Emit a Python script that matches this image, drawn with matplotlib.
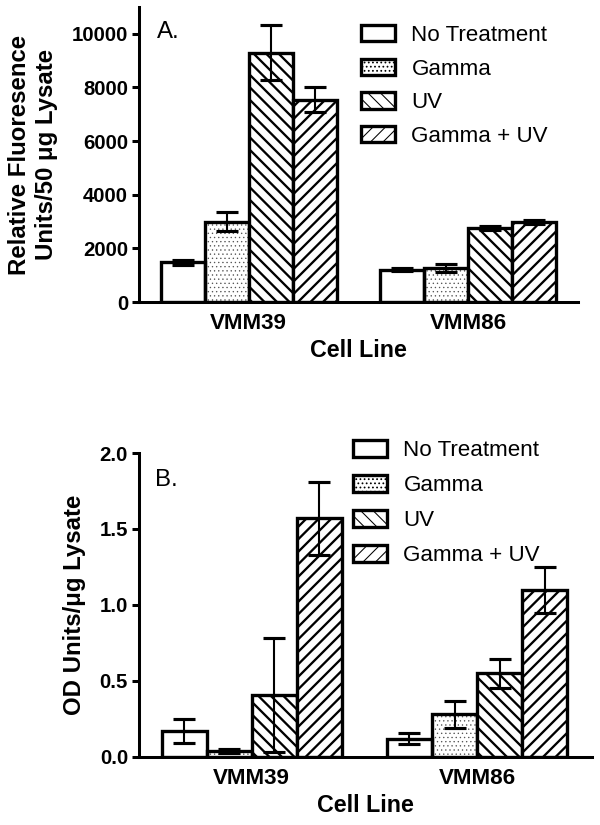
import numpy as np
import matplotlib.pyplot as plt

plt.rcParams['font.family'] = ['Liberation Sans', 'DejaVu Sans']

cell_lines = ['VMM39', 'VMM86']
treatments = ['No Treatment', 'Gamma', 'UV', 'Gamma + UV']
hatches = ['', '...', '\\\\', '//']

# panel A: relative fluorescence units / 50 ug lysate
fluor_vals = [[1480, 1200], [3000, 1270], [9300, 2770], [7550, 2970]]
fluor_err = [[100, 60], [370, 150], [1030, 70], [480, 80]]

# panel B: OD units / ug lysate
od_vals = [[0.17, 0.12], [0.04, 0.28], [0.405, 0.55], [1.57, 1.10]]
od_err = [[0.08, 0.035], [0.012, 0.09], [0.375, 0.095], [0.24, 0.15]]

W, H = 600, 825
fig = plt.figure(figsize=(8, 11), dpi=75)


def px_axes(l, t, r, b):
    return fig.add_axes([l / W, 1 - b / H, (r - l) / W, (b - t) / H])


def draw_panel(ax, vals, errs):
    x = np.arange(len(cell_lines))
    w = 0.2
    for i, name in enumerate(treatments):
        pos = x + (i - 1.5) * w
        dotted = hatches[i] == '...'
        hlw = 0.6 if dotted else 2.2
        with plt.rc_context({'hatch.linewidth': hlw}):
            if dotted:
                # grey dots under a black outline
                ax.bar(pos, vals[i], w, color='white', edgecolor='#555555',
                       linewidth=0, hatch=hatches[i], zorder=1.5)
                ax.bar(pos, vals[i], w, color='none', edgecolor='black',
                       linewidth=3.2, zorder=2)
                ax.bar([np.nan], [np.nan], color='white', edgecolor='black',
                       linewidth=3.2, hatch=hatches[i], label=name)
            else:
                ax.bar(pos, vals[i], w, color='white', edgecolor='black',
                       linewidth=3.2, hatch=hatches[i], label=name, zorder=2)
        ax.errorbar(pos, vals[i], yerr=errs[i], fmt='none', ecolor='black',
                    elinewidth=2, capsize=10.5, capthick=3, zorder=3)
    ax.set_xticks(x)
    ax.set_xticklabels(cell_lines, fontsize=21.5, fontweight='bold')
    ax.tick_params(axis='x', length=0, pad=11)
    ax.tick_params(axis='y', length=6.5, width=2.9, labelsize=19.5, pad=4)
    for lab in ax.get_yticklabels():
        lab.set_fontweight('bold')
    for s in ['top', 'right']:
        ax.spines[s].set_visible(False)
    for s in ['left', 'bottom']:
        ax.spines[s].set_linewidth(2.9)
    ax.set_xlabel('Cell Line', fontsize=22.3, fontweight='bold', labelpad=4.5)


# Panel A
axA = px_axes(139, 7, 578, 302)
draw_panel(axA, fluor_vals, fluor_err)
axA.set_xlim(-0.5, 1.5)
axA.set_ylim(0, 11000)
axA.set_yticks([0, 2000, 4000, 6000, 8000, 10000])
axA.set_yticklabels(['0', '2000', '4000', '6000', '8000', '10000'],
                    fontweight='bold', fontsize=19.5)
axA.set_ylabel('Relative Fluoresence\nUnits/50 \u03bcg Lysate', fontsize=23,
               fontweight='bold', va='center', linespacing=1.2)
axA.yaxis.set_label_coords((33 - 139) / 439, 0.5)
axA.text((157 - 139) / 439, (302 - 32) / 295, 'A.', transform=axA.transAxes,
         fontsize=23, va='center', ha='left')
axA.legend(loc='upper left', bbox_to_anchor=(361 / W, 1 - 25 / H),
           bbox_transform=fig.transFigure, frameon=False, fontsize=21.5,
           handlelength=1.5, handleheight=0.75, handletextpad=0.75,
           labelspacing=0.56, borderpad=0, borderaxespad=0)

# Panel B
axB = px_axes(139, 453, 592, 757)
draw_panel(axB, od_vals, od_err)
axB.set_xlim(-0.5, 1.51)
axB.set_ylim(0, 2.0)
axB.set_yticks([0, 0.5, 1.0, 1.5, 2.0])
axB.set_yticklabels(['0.0', '0.5', '1.0', '1.5', '2.0'], fontweight='bold',
                    fontsize=19.5)
axB.set_ylabel('OD Units/\u03bcg Lysate', fontsize=23, fontweight='bold',
               va='center')
axB.yaxis.set_label_coords((75 - 139) / 453, 0.5)
axB.text((155 - 139) / 453, (757 - 480) / 304, 'B.', transform=axB.transAxes,
         fontsize=23, va='center', ha='left')
axB.legend(loc='upper left', bbox_to_anchor=(353 / W, 1 - 440 / H),
           bbox_transform=fig.transFigure, frameon=False, fontsize=21.5,
           handlelength=1.5, handleheight=0.8, handletextpad=0.75,
           labelspacing=0.61, borderpad=0, borderaxespad=0)

fig.savefig('out.png', dpi=75)
